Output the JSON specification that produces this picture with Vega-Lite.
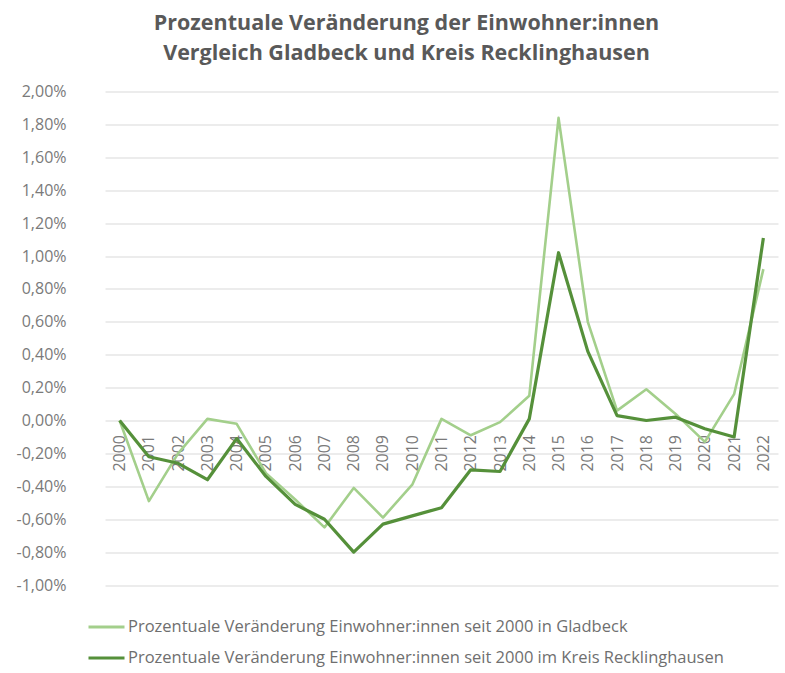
{
  "$schema": "https://vega.github.io/schema/vega-lite/v6.json",
  "width": 695,
  "height": 493.5,
  "autosize": {"type": "none"},
  "padding": {"left": 90, "top": 91.5, "right": 0, "bottom": 88},
  "background": "white",
  "title": {
    "text": ["Prozentuale Veränderung der Einwohner:innen", "Vergleich Gladbeck und Kreis Recklinghausen"],
    "anchor": "middle",
    "frame": "group",
    "dx": -31,
    "offset": 19,
    "font": "Open Sans",
    "fontSize": 21.5,
    "fontWeight": "bold",
    "color": "#595959",
    "lineHeight": 30
  },
  "data": {
    "values": [
      {"year": "2000", "series": "Prozentuale Veränderung Einwohner:innen  seit 2000 in Gladbeck", "value": 0},
      {"year": "2001", "series": "Prozentuale Veränderung Einwohner:innen  seit 2000 in Gladbeck", "value": -0.49},
      {"year": "2002", "series": "Prozentuale Veränderung Einwohner:innen  seit 2000 in Gladbeck", "value": -0.2},
      {"year": "2003", "series": "Prozentuale Veränderung Einwohner:innen  seit 2000 in Gladbeck", "value": 0.01},
      {"year": "2004", "series": "Prozentuale Veränderung Einwohner:innen  seit 2000 in Gladbeck", "value": -0.02},
      {"year": "2005", "series": "Prozentuale Veränderung Einwohner:innen  seit 2000 in Gladbeck", "value": -0.32},
      {"year": "2006", "series": "Prozentuale Veränderung Einwohner:innen  seit 2000 in Gladbeck", "value": -0.48},
      {"year": "2007", "series": "Prozentuale Veränderung Einwohner:innen  seit 2000 in Gladbeck", "value": -0.65},
      {"year": "2008", "series": "Prozentuale Veränderung Einwohner:innen  seit 2000 in Gladbeck", "value": -0.41},
      {"year": "2009", "series": "Prozentuale Veränderung Einwohner:innen  seit 2000 in Gladbeck", "value": -0.59},
      {"year": "2010", "series": "Prozentuale Veränderung Einwohner:innen  seit 2000 in Gladbeck", "value": -0.39},
      {"year": "2011", "series": "Prozentuale Veränderung Einwohner:innen  seit 2000 in Gladbeck", "value": 0.01},
      {"year": "2012", "series": "Prozentuale Veränderung Einwohner:innen  seit 2000 in Gladbeck", "value": -0.09},
      {"year": "2013", "series": "Prozentuale Veränderung Einwohner:innen  seit 2000 in Gladbeck", "value": -0.01},
      {"year": "2014", "series": "Prozentuale Veränderung Einwohner:innen  seit 2000 in Gladbeck", "value": 0.15},
      {"year": "2015", "series": "Prozentuale Veränderung Einwohner:innen  seit 2000 in Gladbeck", "value": 1.84},
      {"year": "2016", "series": "Prozentuale Veränderung Einwohner:innen  seit 2000 in Gladbeck", "value": 0.6},
      {"year": "2017", "series": "Prozentuale Veränderung Einwohner:innen  seit 2000 in Gladbeck", "value": 0.06},
      {"year": "2018", "series": "Prozentuale Veränderung Einwohner:innen  seit 2000 in Gladbeck", "value": 0.19},
      {"year": "2019", "series": "Prozentuale Veränderung Einwohner:innen  seit 2000 in Gladbeck", "value": 0.04},
      {"year": "2020", "series": "Prozentuale Veränderung Einwohner:innen  seit 2000 in Gladbeck", "value": -0.13},
      {"year": "2021", "series": "Prozentuale Veränderung Einwohner:innen  seit 2000 in Gladbeck", "value": 0.16},
      {"year": "2022", "series": "Prozentuale Veränderung Einwohner:innen  seit 2000 in Gladbeck", "value": 0.92},
      {"year": "2000", "series": "Prozentuale Veränderung Einwohner:innen  seit 2000 im Kreis Recklinghausen", "value": 0},
      {"year": "2001", "series": "Prozentuale Veränderung Einwohner:innen  seit 2000 im Kreis Recklinghausen", "value": -0.22},
      {"year": "2002", "series": "Prozentuale Veränderung Einwohner:innen  seit 2000 im Kreis Recklinghausen", "value": -0.26},
      {"year": "2003", "series": "Prozentuale Veränderung Einwohner:innen  seit 2000 im Kreis Recklinghausen", "value": -0.36},
      {"year": "2004", "series": "Prozentuale Veränderung Einwohner:innen  seit 2000 im Kreis Recklinghausen", "value": -0.11},
      {"year": "2005", "series": "Prozentuale Veränderung Einwohner:innen  seit 2000 im Kreis Recklinghausen", "value": -0.34},
      {"year": "2006", "series": "Prozentuale Veränderung Einwohner:innen  seit 2000 im Kreis Recklinghausen", "value": -0.51},
      {"year": "2007", "series": "Prozentuale Veränderung Einwohner:innen  seit 2000 im Kreis Recklinghausen", "value": -0.6},
      {"year": "2008", "series": "Prozentuale Veränderung Einwohner:innen  seit 2000 im Kreis Recklinghausen", "value": -0.8},
      {"year": "2009", "series": "Prozentuale Veränderung Einwohner:innen  seit 2000 im Kreis Recklinghausen", "value": -0.63},
      {"year": "2010", "series": "Prozentuale Veränderung Einwohner:innen  seit 2000 im Kreis Recklinghausen", "value": -0.58},
      {"year": "2011", "series": "Prozentuale Veränderung Einwohner:innen  seit 2000 im Kreis Recklinghausen", "value": -0.53},
      {"year": "2012", "series": "Prozentuale Veränderung Einwohner:innen  seit 2000 im Kreis Recklinghausen", "value": -0.3},
      {"year": "2013", "series": "Prozentuale Veränderung Einwohner:innen  seit 2000 im Kreis Recklinghausen", "value": -0.31},
      {"year": "2014", "series": "Prozentuale Veränderung Einwohner:innen  seit 2000 im Kreis Recklinghausen", "value": 0.01},
      {"year": "2015", "series": "Prozentuale Veränderung Einwohner:innen  seit 2000 im Kreis Recklinghausen", "value": 1.02},
      {"year": "2016", "series": "Prozentuale Veränderung Einwohner:innen  seit 2000 im Kreis Recklinghausen", "value": 0.42},
      {"year": "2017", "series": "Prozentuale Veränderung Einwohner:innen  seit 2000 im Kreis Recklinghausen", "value": 0.03},
      {"year": "2018", "series": "Prozentuale Veränderung Einwohner:innen  seit 2000 im Kreis Recklinghausen", "value": 0.0},
      {"year": "2019", "series": "Prozentuale Veränderung Einwohner:innen  seit 2000 im Kreis Recklinghausen", "value": 0.02},
      {"year": "2020", "series": "Prozentuale Veränderung Einwohner:innen  seit 2000 im Kreis Recklinghausen", "value": -0.05},
      {"year": "2021", "series": "Prozentuale Veränderung Einwohner:innen  seit 2000 im Kreis Recklinghausen", "value": -0.1},
      {"year": "2022", "series": "Prozentuale Veränderung Einwohner:innen  seit 2000 im Kreis Recklinghausen", "value": 1.11}
    ]
  },
  "encoding": {
    "x": {
      "field": "year",
      "type": "ordinal",
      "scale": {"type": "point", "range": [15, 688]},
      "axis": {
        "title": null,
        "orient": "bottom",
        "offset": -164.5,
        "domain": false,
        "ticks": false,
        "grid": false,
        "labelAngle": -90,
        "labelPadding": 14,
        "labelFont": "Open Sans",
        "labelFontSize": 16,
        "labelColor": "#7a7a7a"
      }
    },
    "y": {
      "field": "value",
      "type": "quantitative",
      "scale": {"domain": [-1, 2], "nice": false, "zero": false},
      "axis": {
        "title": null,
        "values": [-1, -0.8, -0.6, -0.4, -0.2, 0, 0.2, 0.4, 0.6, 0.8, 1, 1.2, 1.4, 1.6, 1.8, 2],
        "labelExpr": "replace(replace(format(datum.value, '.2f'), '.', ','), '\u2212', '-') + '%'",
        "domain": false,
        "ticks": false,
        "grid": true,
        "gridColor": "#d9d9d9",
        "gridWidth": 1,
        "labelPadding": 24,
        "labelFont": "Open Sans",
        "labelFontSize": 16,
        "labelColor": "#7a7a7a"
      }
    },
    "color": {
      "field": "series",
      "type": "nominal",
      "sort": ["Prozentuale Veränderung Einwohner:innen  seit 2000 in Gladbeck", "Prozentuale Veränderung Einwohner:innen  seit 2000 im Kreis Recklinghausen"],
      "scale": {
        "domain": ["Prozentuale Veränderung Einwohner:innen  seit 2000 in Gladbeck", "Prozentuale Veränderung Einwohner:innen  seit 2000 im Kreis Recklinghausen"],
        "range": ["#a3cf8b", "#55903a"]
      },
      "legend": {
        "title": null,
        "orient": "none",
        "legendX": -3,
        "legendY": 516,
        "direction": "vertical",
        "symbolType": "stroke",
        "symbolSize": 1296,
        "symbolStrokeWidth": 3,
        "labelFont": "Open Sans",
        "labelFontSize": 16.5,
        "labelColor": "#6f6f6f",
        "labelLimit": 700,
        "labelOffset": 2,
        "rowPadding": 3
      }
    }
  },
  "layer": [
    {
      "transform": [{"filter": "indexof(datum.series, 'Gladbeck') >= 0"}],
      "mark": {"type": "line", "strokeWidth": 2.6, "strokeJoin": "round"}
    },
    {
      "transform": [{"filter": "indexof(datum.series, 'Kreis') >= 0"}],
      "mark": {"type": "line", "strokeWidth": 3.2, "strokeJoin": "round"}
    }
  ],
  "config": {
    "view": {"stroke": null}
  }
}
